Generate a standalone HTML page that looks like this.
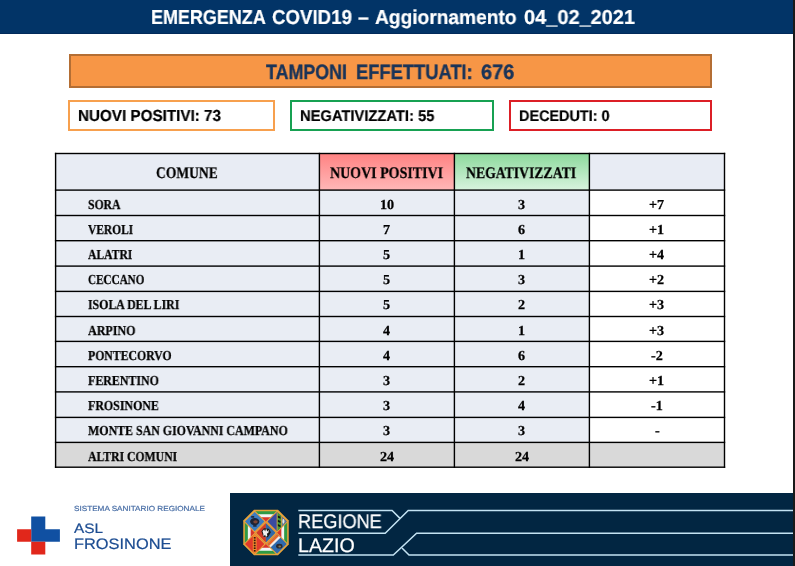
<!DOCTYPE html>
<html><head><meta charset="utf-8"><title>Emergenza COVID19</title>
<style>
html,body{margin:0;padding:0;}
body{width:795px;height:566px;position:relative;overflow:hidden;background:#fff;font-family:"Liberation Sans",sans-serif;}
.tx{position:absolute;white-space:nowrap;line-height:normal;transform-origin:0 0;will-change:transform;text-rendering:geometricPrecision;}
#hdr{position:absolute;left:0;top:0;width:793px;height:33px;background:#023467;border-bottom:1px solid #012a5a;}
#redge{position:absolute;left:793px;top:0;width:2px;height:566px;background:#1a1a1a;}
#tamp{position:absolute;left:69.1px;top:54.3px;width:643.3px;height:33.8px;box-sizing:border-box;background:#f79646;border:2px solid #b46e34;}
.box{position:absolute;top:99.8px;height:30.8px;box-sizing:border-box;border:2px solid;background:#fff;}
.grid{position:absolute;left:0;top:0;}
.sansb{font-family:'Liberation Sans',sans-serif;font-weight:bold;}
.sans{font-family:'Liberation Sans',sans-serif;font-weight:normal;}
.serifb{font-family:'Liberation Serif',serif;font-weight:bold;-webkit-text-stroke:0.25px currentColor;}
#foot{position:absolute;left:230px;top:493px;width:563px;height:73px;background:#022642;}
</style></head>
<body>
<div id="hdr"></div>
<div id="redge"></div>
<div id="tamp"></div>
<div class="box" style="left:68.4px;width:206.7px;border-color:#f7a04e"></div>
<div class="box" style="left:290.4px;width:203.4px;border-color:#17a152"></div>
<div class="box" style="left:509.3px;width:203px;border-color:#dc1f26"></div>
<svg class="grid" width="795" height="566" viewBox="0 0 795 566"><defs><linearGradient id="gr" x1="0" y1="0" x2="0" y2="1"><stop offset="0" stop-color="#ff8282"/><stop offset="1" stop-color="#ffb8b8"/></linearGradient><linearGradient id="gg" x1="0" y1="0" x2="0" y2="1"><stop offset="0" stop-color="#8cd99c"/><stop offset="1" stop-color="#d8f3de"/></linearGradient></defs><rect x="55.6" y="153.5" width="263.79999999999995" height="36.599999999999994" fill="#e8ecf4"/><rect x="319.4" y="153.5" width="135.0" height="36.599999999999994" fill="url(#gr)"/><rect x="454.4" y="153.5" width="135.0" height="36.599999999999994" fill="url(#gg)"/><rect x="589.4" y="153.5" width="135.10000000000002" height="36.599999999999994" fill="#e8ecf4"/><rect x="55.6" y="190.1" width="533.8" height="252.30" fill="#e9edf4"/><rect x="589.4" y="190.1" width="135.10000000000002" height="252.30" fill="#ffffff"/><rect x="55.6" y="442.40" width="668.9" height="24.80" fill="#d9d9d9"/><rect x="54.90" y="152.80" width="670.30" height="1.4" fill="#000"/><rect x="54.90" y="189.40" width="670.30" height="1.4" fill="#000"/><rect x="54.90" y="214.80" width="670.30" height="1.4" fill="#000"/><rect x="54.90" y="240.00" width="670.30" height="1.4" fill="#000"/><rect x="54.90" y="265.40" width="670.30" height="1.4" fill="#000"/><rect x="54.90" y="290.70" width="670.30" height="1.4" fill="#000"/><rect x="54.90" y="315.80" width="670.30" height="1.4" fill="#000"/><rect x="54.90" y="340.70" width="670.30" height="1.4" fill="#000"/><rect x="54.90" y="366.00" width="670.30" height="1.4" fill="#000"/><rect x="54.90" y="391.20" width="670.30" height="1.4" fill="#000"/><rect x="54.90" y="416.70" width="670.30" height="1.4" fill="#000"/><rect x="54.90" y="441.70" width="670.30" height="1.4" fill="#000"/><rect x="54.90" y="466.50" width="670.30" height="1.4" fill="#000"/><rect x="54.90" y="152.80" width="1.4" height="315.10" fill="#000"/><rect x="318.70" y="152.80" width="1.4" height="315.10" fill="#000"/><rect x="453.70" y="152.80" width="1.4" height="315.10" fill="#000"/><rect x="588.70" y="152.80" width="1.4" height="315.10" fill="#000"/><rect x="723.80" y="152.80" width="1.4" height="315.10" fill="#000"/></svg>
<div id="foot"></div>
<svg class="grid" width="795" height="566" viewBox="0 0 795 566"><path d="M31.2 516.6H45.3V529.3H59.9V541.8H31.2Z" fill="#1050a2"/><path d="M17.1 529.3H31.2V541.8H45.3V554.6H31.2V541.8H17.1Z" fill="#e1271b"/><polygon points="254.00,509.75 278.00,509.75 288.75,520.50 288.75,544.50 278.00,555.25 254.00,555.25 243.25,544.50 243.25,520.50" fill="#e6a33a"/><polygon points="254.66,511.35 277.34,511.35 287.15,521.16 287.15,543.84 277.34,553.65 254.66,553.65 244.85,543.84 244.85,521.16" fill="#2f9a45"/><polygon points="255.91,514.35 276.09,514.35 284.15,522.41 284.15,542.59 276.09,550.65 255.91,550.65 247.85,542.59 247.85,522.41" fill="#f4f4f4"/><polygon points="257.07,517.15 274.93,517.15 281.35,523.57 281.35,541.43 274.93,547.85 257.07,547.85 250.65,541.43 250.65,523.57" fill="#d8352b"/><defs><clipPath id="cpc"><polygon points="265.90,523.10 275.60,532.80 265.90,542.50 256.20,532.80"/></clipPath><clipPath id="cptl"><polygon points="254.70,511.90 264.40,521.60 254.70,531.30 245.00,521.60"/></clipPath><clipPath id="cptr"><polygon points="277.10,511.90 286.80,521.60 277.10,531.30 267.40,521.60"/></clipPath><clipPath id="cpbl"><polygon points="254.70,534.30 264.40,544.00 254.70,553.70 245.00,544.00"/></clipPath><clipPath id="cpbr"><polygon points="277.10,534.30 286.80,544.00 277.10,553.70 267.40,544.00"/></clipPath></defs><polygon points="265.90,521.60 277.10,532.80 265.90,544.00 254.70,532.80" fill="#e8a43c"/><polygon points="254.70,510.40 265.90,521.60 254.70,532.80 243.50,521.60" fill="#e8a43c"/><polygon points="277.10,510.40 288.30,521.60 277.10,532.80 265.90,521.60" fill="#e8a43c"/><polygon points="254.70,532.80 265.90,544.00 254.70,555.20 243.50,544.00" fill="#e8a43c"/><polygon points="277.10,532.80 288.30,544.00 277.10,555.20 265.90,544.00" fill="#e8a43c"/><polygon points="254.70,511.90 264.40,521.60 254.70,531.30 245.00,521.60" fill="#3b7cc1"/><g clip-path="url(#cptl)"><ellipse cx="254.70" cy="521.60" rx="4.6" ry="3.6" fill="#1b2437"/><ellipse cx="255.50" cy="521.80" rx="2.2" ry="1.6" fill="#7a4536"/><rect x="251.20" y="516.10" width="3" height="1.6" fill="#1b2437"/><rect x="253.20" y="525.10" width="3.4" height="1.6" fill="#1b2437"/></g><g clip-path="url(#cptr)"><rect x="267.40" y="511.90" width="19.40" height="19.40" fill="#3a4aa0"/><rect x="277.10" y="511.90" width="4.6" height="19.40" fill="#3f9a3a"/><rect x="281.70" y="511.90" width="9.70" height="19.40" fill="#5f7a9a"/><path d="M277.70 515.60l2.8 1.2v2l-2.8-1.2Z M277.70 519.80l2.8 1.2v2l-2.8-1.2Z M277.70 524.00l2.8 1.2v2l-2.8-1.2Z" fill="#101810"/><ellipse cx="283.40" cy="521.30" rx="1.0" ry="2.4" fill="#e6e6e6"/><rect x="276.70" y="511.90" width="0.8" height="19.40" fill="#e8a43c"/><rect x="281.30" y="511.90" width="0.8" height="19.40" fill="#e8a43c"/></g><g clip-path="url(#cpc)"><rect x="256.20" y="523.10" width="9.70" height="19.40" fill="#cf3b2b"/><rect x="265.90" y="523.10" width="9.70" height="19.40" fill="#2f69a8"/><path d="M261.40 531.30L263.90 528.30L268.90 528.80L270.90 532.30L267.90 537.30L263.40 536.80Z" fill="#1a1a1a"/><path d="M262.50 531.20l1.6-2 1 2.4 1-3 1.2 3 1.6-1.8-.6 3.2-1.4.4 .4 2.4-1.4 1.2-.8-2.2-1.6 1.6-.2-2.6Z" fill="#f2f2f2"/></g><g clip-path="url(#cpbl)"><rect x="245.00" y="534.30" width="19.40" height="19.40" fill="#e2392a"/><rect x="252.80" y="534.30" width="3.8" height="19.40" fill="#ee8a2e"/><rect x="253.80" y="537.00" width="1.8" height="1.6" fill="#3a140c"/><rect x="253.80" y="539.60" width="1.8" height="1.6" fill="#3a140c"/><rect x="253.80" y="542.20" width="1.8" height="1.6" fill="#3a140c"/><rect x="253.80" y="544.80" width="1.8" height="1.6" fill="#3a140c"/><rect x="253.80" y="547.40" width="1.8" height="1.6" fill="#3a140c"/><rect x="253.80" y="550.00" width="1.8" height="1.6" fill="#3a140c"/></g><g clip-path="url(#cpbr)"><rect x="267.40" y="534.30" width="19.40" height="19.40" fill="#2f6aae"/><polygon points="267.40,534.30 286.80,534.30 267.40,553.70" fill="#e8672b" transform="translate(-2.2,-2.2)"/><polygon points="267.40,552.70 285.80,534.30 289.00,534.30 267.40,555.90" fill="#f3ece6" transform="translate(-2.6,-2.6)"/><ellipse cx="279.30" cy="546.20" rx="3.2" ry="2.4" fill="#2a2a30"/><ellipse cx="279.70" cy="546.40" rx="1.3" ry="1" fill="#8a7a50"/></g><polyline points="298.3,510.5 392.1,510.5 400.0,518.4" fill="none" stroke="#c4e3f3" stroke-width="1.5" stroke-linejoin="miter"/><polyline points="298.3,533.2 385.2,533.2 408.2,510.5 793,510.5" fill="none" stroke="#c4e3f3" stroke-width="1.5" stroke-linejoin="miter"/><polyline points="298.3,555.0 393.3,555.0 416.6,533.2 793,533.2" fill="none" stroke="#c4e3f3" stroke-width="1.5" stroke-linejoin="miter"/><polyline points="793,555.0 409.0,555.0 402.0,548.0" fill="none" stroke="#c4e3f3" stroke-width="1.5" stroke-linejoin="miter"/></svg>
<div class="tx sansb" style="left:151.40px;top:7.00px;font-size:20.20px;color:#fff;transform:scaleX(0.8894);-webkit-text-stroke:0.2px #fff;">EMERGENZA</div><div class="tx sansb" style="left:272.00px;top:7.00px;font-size:20.20px;color:#fff;transform:scaleX(0.9253);-webkit-text-stroke:0.2px #fff;">COVID19</div><div class="tx sansb" style="left:358.40px;top:7.00px;font-size:20.20px;color:#fff;transform:scaleX(0.9633);-webkit-text-stroke:0.2px #fff;">–</div><div class="tx sansb" style="left:374.70px;top:7.00px;font-size:20.20px;color:#fff;transform:scaleX(0.9492);-webkit-text-stroke:0.2px #fff;">Aggiornamento</div><div class="tx sansb" style="left:523.60px;top:7.00px;font-size:20.20px;color:#fff;transform:scaleX(0.9892);-webkit-text-stroke:0.2px #fff;">04_02_2021</div><div class="tx sansb" style="left:266.40px;top:61.00px;font-size:20.78px;color:#1a3459;transform:scaleX(0.8585);-webkit-text-stroke:0.35px #1a3459;">TAMPONI</div><div class="tx sansb" style="left:355.80px;top:61.00px;font-size:20.78px;color:#1a3459;transform:scaleX(0.8824);-webkit-text-stroke:0.35px #1a3459;">EFFETTUATI:</div><div class="tx sansb" style="left:481.40px;top:61.00px;font-size:20.78px;color:#1a3459;transform:scaleX(0.9653);-webkit-text-stroke:0.35px #1a3459;">676</div><div class="tx sansb" style="left:78.00px;top:108.00px;font-size:15.99px;color:#000;transform:scaleX(0.9524);-webkit-text-stroke:0.2px #000;">NUOVI POSITIVI: 73</div><div class="tx sansb" style="left:300.10px;top:108.00px;font-size:15.55px;color:#000;transform:scaleX(0.9467);-webkit-text-stroke:0.2px #000;">NEGATIVIZZATI: 55</div><div class="tx sansb" style="left:519.10px;top:108.00px;font-size:15.41px;color:#000;transform:scaleX(0.9352);-webkit-text-stroke:0.2px #000;">DECEDUTI: 0</div><div class="tx serifb" style="left:156.40px;top:165.00px;font-size:16.18px;color:#000;transform:scaleX(0.8372);">COMUNE</div><div class="tx serifb" style="left:330.10px;top:165.00px;font-size:16.18px;color:#000;transform:scaleX(0.8646);">NUOVI POSITIVI</div><div class="tx serifb" style="left:466.40px;top:165.00px;font-size:16.18px;color:#000;transform:scaleX(0.8485);">NEGATIVIZZATI</div><div class="tx serifb" style="left:88.30px;top:197.00px;font-size:13.74px;color:#000;transform:scaleX(0.8508);">SORA</div><div class="tx serifb" style="left:379.82px;top:197.00px;font-size:13.74px;color:#000;transform:scaleX(1.0300);">10</div><div class="tx serifb" style="left:518.36px;top:197.00px;font-size:13.74px;color:#000;transform:scaleX(1.0300);">3</div><div class="tx serifb" style="left:649.38px;top:197.00px;font-size:13.74px;color:#000;transform:scaleX(1.0300);">+7</div><div class="tx serifb" style="left:88.30px;top:222.00px;font-size:13.74px;color:#000;transform:scaleX(0.8339);">VEROLI</div><div class="tx serifb" style="left:383.36px;top:222.00px;font-size:13.74px;color:#000;transform:scaleX(1.0300);">7</div><div class="tx serifb" style="left:518.36px;top:222.00px;font-size:13.74px;color:#000;transform:scaleX(1.0300);">6</div><div class="tx serifb" style="left:649.38px;top:222.00px;font-size:13.74px;color:#000;transform:scaleX(1.0300);">+1</div><div class="tx serifb" style="left:88.30px;top:247.00px;font-size:13.74px;color:#000;transform:scaleX(0.8451);">ALATRI</div><div class="tx serifb" style="left:383.36px;top:247.00px;font-size:13.74px;color:#000;transform:scaleX(1.0300);">5</div><div class="tx serifb" style="left:518.36px;top:247.00px;font-size:13.74px;color:#000;transform:scaleX(1.0300);">1</div><div class="tx serifb" style="left:649.38px;top:247.00px;font-size:13.74px;color:#000;transform:scaleX(1.0300);">+4</div><div class="tx serifb" style="left:88.30px;top:272.00px;font-size:13.74px;color:#000;transform:scaleX(0.8120);">CECCANO</div><div class="tx serifb" style="left:383.36px;top:272.00px;font-size:13.74px;color:#000;transform:scaleX(1.0300);">5</div><div class="tx serifb" style="left:518.36px;top:272.00px;font-size:13.74px;color:#000;transform:scaleX(1.0300);">3</div><div class="tx serifb" style="left:649.38px;top:272.00px;font-size:13.74px;color:#000;transform:scaleX(1.0300);">+2</div><div class="tx serifb" style="left:88.30px;top:297.00px;font-size:13.74px;color:#000;transform:scaleX(0.8611);">ISOLA DEL LIRI</div><div class="tx serifb" style="left:383.36px;top:297.00px;font-size:13.74px;color:#000;transform:scaleX(1.0300);">5</div><div class="tx serifb" style="left:518.36px;top:297.00px;font-size:13.74px;color:#000;transform:scaleX(1.0300);">2</div><div class="tx serifb" style="left:649.38px;top:297.00px;font-size:13.74px;color:#000;transform:scaleX(1.0300);">+3</div><div class="tx serifb" style="left:88.30px;top:323.00px;font-size:13.74px;color:#000;transform:scaleX(0.8763);">ARPINO</div><div class="tx serifb" style="left:383.36px;top:323.00px;font-size:13.74px;color:#000;transform:scaleX(1.0300);">4</div><div class="tx serifb" style="left:518.36px;top:323.00px;font-size:13.74px;color:#000;transform:scaleX(1.0300);">1</div><div class="tx serifb" style="left:649.38px;top:323.00px;font-size:13.74px;color:#000;transform:scaleX(1.0300);">+3</div><div class="tx serifb" style="left:88.30px;top:348.00px;font-size:13.74px;color:#000;transform:scaleX(0.8558);">PONTECORVO</div><div class="tx serifb" style="left:383.36px;top:348.00px;font-size:13.74px;color:#000;transform:scaleX(1.0300);">4</div><div class="tx serifb" style="left:518.36px;top:348.00px;font-size:13.74px;color:#000;transform:scaleX(1.0300);">6</div><div class="tx serifb" style="left:651.04px;top:348.00px;font-size:13.74px;color:#000;transform:scaleX(1.0300);">-2</div><div class="tx serifb" style="left:88.30px;top:373.00px;font-size:13.74px;color:#000;transform:scaleX(0.8680);">FERENTINO</div><div class="tx serifb" style="left:383.36px;top:373.00px;font-size:13.74px;color:#000;transform:scaleX(1.0300);">3</div><div class="tx serifb" style="left:518.36px;top:373.00px;font-size:13.74px;color:#000;transform:scaleX(1.0300);">2</div><div class="tx serifb" style="left:649.38px;top:373.00px;font-size:13.74px;color:#000;transform:scaleX(1.0300);">+1</div><div class="tx serifb" style="left:88.30px;top:398.00px;font-size:13.74px;color:#000;transform:scaleX(0.8680);">FROSINONE</div><div class="tx serifb" style="left:383.36px;top:398.00px;font-size:13.74px;color:#000;transform:scaleX(1.0300);">3</div><div class="tx serifb" style="left:518.36px;top:398.00px;font-size:13.74px;color:#000;transform:scaleX(1.0300);">4</div><div class="tx serifb" style="left:651.04px;top:398.00px;font-size:13.74px;color:#000;transform:scaleX(1.0300);">-1</div><div class="tx serifb" style="left:88.30px;top:423.00px;font-size:13.74px;color:#000;transform:scaleX(0.8671);">MONTE SAN GIOVANNI CAMPANO</div><div class="tx serifb" style="left:383.36px;top:423.00px;font-size:13.74px;color:#000;transform:scaleX(1.0300);">3</div><div class="tx serifb" style="left:518.36px;top:423.00px;font-size:13.74px;color:#000;transform:scaleX(1.0300);">3</div><div class="tx serifb" style="left:654.58px;top:423.00px;font-size:13.74px;color:#000;transform:scaleX(1.0300);">-</div><div class="tx serifb" style="left:88.30px;top:449.00px;font-size:13.74px;color:#000;transform:scaleX(0.8536);">ALTRI COMUNI</div><div class="tx serifb" style="left:379.82px;top:449.00px;font-size:13.74px;color:#000;transform:scaleX(1.0300);">24</div><div class="tx serifb" style="left:514.82px;top:449.00px;font-size:13.74px;color:#000;transform:scaleX(1.0300);">24</div><div class="tx sans" style="left:74.00px;top:504.00px;font-size:7.41px;color:#4a6fa6;transform:scaleX(1.1022);-webkit-text-stroke:0.2px #4a6fa6;">SISTEMA SANITARIO REGIONALE</div><div class="tx sans" style="left:74.20px;top:521.00px;font-size:13.66px;color:#1d4d92;transform:scaleX(1.1233);-webkit-text-stroke:0.2px #1d4d92;">ASL</div><div class="tx sans" style="left:74.20px;top:536.00px;font-size:15.12px;color:#1d4d92;transform:scaleX(1.0847);-webkit-text-stroke:0.2px #1d4d92;">FROSINONE</div><div class="tx sans" style="left:297.80px;top:511.00px;font-size:19.62px;color:#ffffff;transform:scaleX(0.9265);-webkit-text-stroke:0.25px #fff;">REGIONE</div><div class="tx sans" style="left:298.00px;top:535.00px;font-size:19.62px;color:#ffffff;transform:scaleX(0.9929);-webkit-text-stroke:0.25px #fff;">LAZIO</div>
</body></html>
